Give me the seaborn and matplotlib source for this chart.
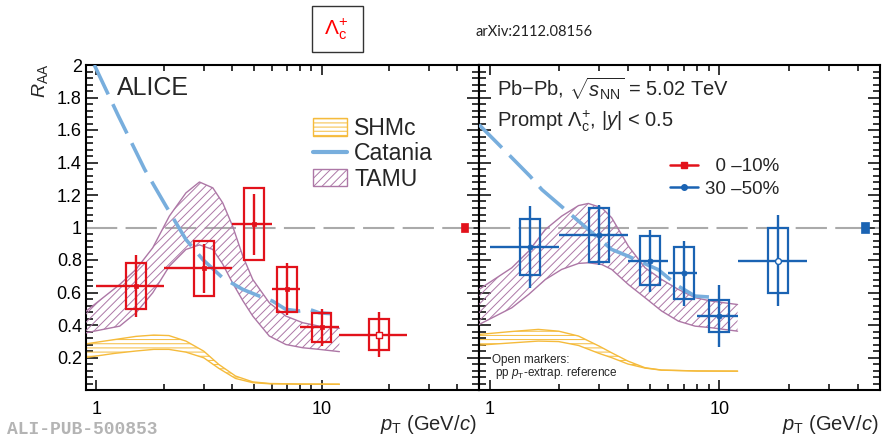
import numpy as np
import pandas as pd
import matplotlib
matplotlib.use("Agg")
import matplotlib.pyplot as plt
import seaborn as sns
from matplotlib.patches import Rectangle, Patch
from matplotlib.lines import Line2D
from matplotlib.ticker import FixedLocator, NullFormatter, FuncFormatter

# ---------------------------------------------------------------- data
# pT bins (GeV/c)
pt_center = [1.5, 3, 5, 7, 10, 18]
pt_low = [1, 2, 4, 6, 8, 12]
pt_high = [2, 4, 6, 8, 12, 24]
# last bin uses the pT-extrapolated pp reference (open marker)
pp_extrap_ref = [False, False, False, False, False, True]

# 0-10% centrality
raa_010 = [0.64, 0.75, 1.02, 0.62, 0.385, 0.34]
stat_010 = [0.19, 0.15, 0.187, 0.16, 0.113, 0.138]
syst_010 = [0.14, 0.17, 0.223, 0.14, 0.09, 0.095]
norm_010 = 0.03

# 30-50% centrality
raa_3050 = [0.88, 0.955, 0.795, 0.72, 0.455, 0.795]
stat_3050 = [0.25, 0.185, 0.19, 0.20, 0.19, 0.28]
syst_3050 = [0.17, 0.167, 0.15, 0.16, 0.10, 0.20]
norm_3050 = 0.033

# SHMc band
shmc_pt_010 = [0.9, 1.2, 1.5, 1.8, 2.1, 2.5, 3.0, 3.5, 4.15, 4.95, 5.9, 8, 12]
shmc_hi_010 = [0.284, 0.31, 0.33, 0.338, 0.335, 0.301, 0.239, 0.157, 0.086, 0.05, 0.04, 0.037, 0.036]
shmc_lo_010 = [0.2, 0.225, 0.24, 0.25, 0.25, 0.233, 0.198, 0.133, 0.071, 0.045, 0.038, 0.036, 0.035]
shmc_pt_3050 = [0.9, 1.25, 1.63, 2.0, 2.44, 3.0, 3.4, 4.0, 4.75, 5.6, 8, 12]
shmc_hi_3050 = [0.342, 0.36, 0.373, 0.362, 0.332, 0.27, 0.229, 0.178, 0.137, 0.123, 0.117, 0.116]
shmc_lo_3050 = [0.276, 0.29, 0.301, 0.298, 0.274, 0.225, 0.199, 0.16, 0.135, 0.122, 0.117, 0.116]

# TAMU band
tamu_pt_010 = [0.9, 1.27, 1.5, 1.78, 2.11, 2.5, 2.87, 3.29, 3.64, 4.03, 4.47, 4.95, 5.86, 6.94, 8.25, 9.76, 12]
tamu_hi_010 = [0.485, 0.649, 0.742, 0.875, 1.07, 1.213, 1.28, 1.244, 1.152, 1.008, 0.824, 0.68, 0.537, 0.455, 0.414, 0.393, 0.38]
tamu_lo_010 = [0.352, 0.393, 0.475, 0.598, 0.762, 0.865, 0.893, 0.865, 0.775, 0.658, 0.55, 0.455, 0.332, 0.28, 0.26, 0.25, 0.236]
tamu_pt_3050 = [0.9, 1.25, 1.48, 1.75, 2.06, 2.44, 2.69, 3.08, 3.4, 4.02, 4.75, 5.61, 6.63, 7.84, 9.26, 12]
tamu_hi_3050 = [0.619, 0.752, 0.854, 0.988, 1.07, 1.135, 1.148, 1.121, 1.06, 0.885, 0.752, 0.68, 0.619, 0.568, 0.547, 0.526]
tamu_lo_3050 = [0.403, 0.506, 0.588, 0.68, 0.742, 0.779, 0.783, 0.772, 0.742, 0.649, 0.568, 0.486, 0.424, 0.393, 0.383, 0.362]

# Catania
cat_pt_010 = [0.98, 1.25, 1.64, 2.04, 2.5, 2.97, 3.64, 4.47, 5.29, 6.06, 6.94, 7.95, 8.83, 9.76, 11]
cat_raa_010 = [2.0, 1.69, 1.357, 1.131, 0.926, 0.803, 0.69, 0.619, 0.578, 0.547, 0.496, 0.486, 0.496, 0.475, 0.47]
cat_pt_3050 = [0.9, 1.2, 1.5, 1.69, 2.13, 2.69, 3.4, 4.02, 5.43, 6.63, 7.84, 10]
cat_raa_3050 = [1.633, 1.455, 1.316, 1.233, 1.111, 0.988, 0.865, 0.823, 0.74, 0.639, 0.578, 0.568]

model_labels = ["SHMc", "Catania", "TAMU"]
cent_labels = ["  0 \u201310%", "30 \u201350%"]
y_ticks = [0.2, 0.4, 0.6, 0.8, 1.0, 1.2, 1.4, 1.6, 1.8, 2.0]

# ---------------------------------------------------------------- style
sns.set_theme(style="ticks")
plt.rcParams["font.family"] = ["Liberation Sans", "DejaVu Sans"]
plt.rcParams["mathtext.fontset"] = "custom"
plt.rcParams["mathtext.rm"] = "Liberation Sans"
plt.rcParams["mathtext.it"] = "Liberation Sans:italic"
plt.rcParams["mathtext.bf"] = "Liberation Sans:bold"
plt.rcParams["hatch.linewidth"] = 0.7

RED = "#e2121b"
BLUE = "#1a63b3"
CATANIA = "#78aedd"
TAMU = "#ad77a6"
SHMC = "#f5bb3c"
BOX_FACTOR = 10 ** 0.044

W, H = 884, 438
fig = plt.figure(figsize=(W / 100, H / 100), dpi=100)


def px_box(x0, y0, x1, y1):
    return [x0 / W, 1 - y1 / H, (x1 - x0) / W, (y1 - y0) / H]


def fx(x):
    return x / W


def fy(y):
    return 1 - y / H


ax1 = fig.add_axes(px_box(86, 65, 479, 390))
ax2 = fig.add_axes(px_box(479, 65, 880, 390))


def draw_models(ax, s_pt, s_lo, s_hi, t_pt, t_lo, t_hi, c_pt, c_raa):
    ax.fill_between(s_pt, s_lo, s_hi, facecolor="none", edgecolor=SHMC,
                    hatch="----", linewidth=0, zorder=2)
    for edge in (s_lo, s_hi):
        sns.lineplot(x=s_pt, y=edge, color=SHMC, lw=1.0, ax=ax, sort=False,
                     estimator=None, zorder=2)
    ax.fill_between(t_pt, t_lo, t_hi, facecolor="none", edgecolor=TAMU,
                    hatch="////", linewidth=0, zorder=3)
    for edge in (t_lo, t_hi):
        sns.lineplot(x=t_pt, y=edge, color=TAMU, lw=1.0, ax=ax, sort=False,
                     estimator=None, zorder=3)
    sns.lineplot(x=c_pt, y=c_raa, color=CATANIA, lw=2.6, ax=ax, sort=False,
                 estimator=None, linestyle=(0, (9, 3)), zorder=4)


def draw_points(ax, raa, stat, syst, color, marker, size):
    df = pd.DataFrame({"pt": pt_center, "lo": pt_low, "hi": pt_high,
                       "raa": raa, "stat": stat, "syst": syst,
                       "ref": pp_extrap_ref})
    for r in df.itertuples():
        x0, x1 = r.pt / BOX_FACTOR, r.pt * BOX_FACTOR
        ax.add_patch(Rectangle((x0, r.raa - r.syst), x1 - x0, 2 * r.syst,
                               fill=False, ec=color, lw=1.6, zorder=5))
    ax.errorbar(df.pt, df.raa, yerr=df.stat,
                xerr=[df.pt - df.lo, df.hi - df.pt], fmt="none",
                ecolor=color, elinewidth=1.7, capsize=0, zorder=6)
    sns.scatterplot(data=df[~df.ref], x="pt", y="raa", marker=marker, s=size,
                    color=color, edgecolor=color, linewidth=0.5, ax=ax,
                    legend=False, zorder=7)
    sns.scatterplot(data=df[df.ref], x="pt", y="raa", marker=marker, s=size + 4,
                    color="white", edgecolor=color, linewidth=1.0, ax=ax,
                    legend=False, zorder=7)


def draw_norm(ax, unc, color):
    x0, x1 = 41.5, 44.8
    ax.add_patch(Rectangle((x0, 1 - unc), x1 - x0, 2 * unc, fc=color,
                           ec=color, lw=0.5, zorder=6))


for ax in (ax1, ax2):
    ax.axhline(1.0, color="#aaaaaa", lw=1.5, linestyle=(0, (15, 4)), zorder=1)

draw_models(ax1, shmc_pt_010, shmc_lo_010, shmc_hi_010,
            tamu_pt_010, tamu_lo_010, tamu_hi_010, cat_pt_010, cat_raa_010)
draw_models(ax2, shmc_pt_3050, shmc_lo_3050, shmc_hi_3050,
            tamu_pt_3050, tamu_lo_3050, tamu_hi_3050, cat_pt_3050, cat_raa_3050)
draw_points(ax1, raa_010, stat_010, syst_010, RED, "s", 12)
draw_points(ax2, raa_3050, stat_3050, syst_3050, BLUE, "o", 14)
draw_norm(ax1, norm_010, RED)
draw_norm(ax2, norm_3050, BLUE)

for ax in (ax1, ax2):
    ax.set_xscale("log")
    ax.set_xlim(0.9, 50)
    ax.set_ylim(0, 2)
    ax.set_xlabel("")
    ax.set_ylabel("")
    ax.xaxis.set_major_locator(FixedLocator([1, 10]))
    ax.xaxis.set_minor_locator(FixedLocator([2, 3, 4, 5, 6, 7, 8, 9, 20, 30, 40]))
    ax.xaxis.set_major_formatter(FuncFormatter(lambda v, p: f"{v:g}"))
    ax.xaxis.set_minor_formatter(NullFormatter())
    ax.yaxis.set_major_locator(FixedLocator(y_ticks))
    ax.yaxis.set_minor_locator(FixedLocator(np.arange(0.04, 2.0, 0.04)))
    ax.yaxis.set_major_formatter(FuncFormatter(lambda v, p: f"{v:g}"))
    ax.tick_params(which="both", direction="in", top=True, right=True,
                   width=1.1, color="black", labelsize=13, labelcolor="black")
    ax.tick_params(axis="y", which="major", length=8.5, pad=3)
    ax.tick_params(axis="y", which="minor", length=5)
    ax.tick_params(axis="x", which="major", length=7, pad=8)
    ax.tick_params(axis="x", which="minor", length=4.5)
    for sp in ax.spines.values():
        sp.set_linewidth(1.5)
        sp.set_color("black")
        sp.set_visible(True)
    ax.set_facecolor("white")
ax2.tick_params(axis="y", labelleft=False)

# model legend
model_handles = [
    Patch(facecolor="none", edgecolor=SHMC, hatch="----", lw=1.0),
    Line2D([], [], color=CATANIA, lw=3),
    Patch(facecolor="none", edgecolor=TAMU, hatch="////", lw=1.0),
]
ax1.legend(model_handles, model_labels, loc="upper left",
           bbox_to_anchor=(fx(313), fy(117)), bbox_transform=fig.transFigure,
           frameon=False, fontsize=16.6, borderpad=0, borderaxespad=0,
           handlelength=1.48, handleheight=0.78, handletextpad=0.3,
           labelspacing=0.1)

# centrality legend
cent_handles = [
    Line2D([], [], color=RED, marker="s", ms=4, lw=1.8),
    Line2D([], [], color=BLUE, marker="o", ms=4, lw=1.8),
]
ax2.legend(cent_handles, cent_labels, loc="upper left",
           bbox_to_anchor=(fx(670), fy(158)), bbox_transform=fig.transFigure,
           frameon=False, fontsize=13.5, borderpad=0, borderaxespad=0,
           handlelength=1.5, handletextpad=0.37, labelspacing=0.3)

# annotations
fig.text(fx(116.7), fy(95), "ALICE", fontsize=18, va="baseline", ha="left")
fig.text(fx(496.7), fy(96.7), r"Pb$-$Pb, $\sqrt{s_{\rm NN}}$ = 5.02 TeV",
         fontsize=14.5, va="baseline", ha="left")
fig.text(fx(496.7), fy(126.7), r"Prompt $\Lambda_{\rm c}^{+}$, $|y|$ < 0.5",
         fontsize=14.5, va="baseline", ha="left")
fig.text(fx(491.7), fy(363), "Open markers:", fontsize=8.5, va="baseline")
fig.text(fx(495), fy(376), r"pp $p_{\rm T}$-extrap. reference", fontsize=8.5,
         va="baseline")

fig.text(fx(40), fy(64), r"$R_{\rm AA}$", rotation=90, ha="center", va="top",
         fontsize=14)
fig.text(fx(476.7), fy(430), r"$p_{\rm T}$ (GeV/$c$)", ha="right",
         va="baseline", fontsize=14.5)
fig.text(fx(878), fy(430), r"$p_{\rm T}$ (GeV/$c$)", ha="right",
         va="baseline", fontsize=14.5)

fig.patches.append(Rectangle((fx(311.7), fy(51.7)), 51 / W, 45.7 / H,
                             transform=fig.transFigure, fill=False,
                             ec="#333333", lw=1.0))
fig.text(fx(336), fy(29), r"$\Lambda_{\rm c}^{+}$", color="#ff0000",
         ha="center", va="center", fontsize=15)
fig.text(fx(476), fy(31.7), "arXiv:2112.08156", ha="left", va="center",
         fontsize=10.5, color="#222222", family=["Lato", "DejaVu Sans"])
fig.text(fx(6.7), fy(434), "ALI-PUB-500853", ha="left", va="baseline",
         fontsize=13, color="#b4b4b4", weight="bold",
         family=["Liberation Mono", "DejaVu Sans Mono"])

fig.savefig("out.png", dpi=100, facecolor="white")
